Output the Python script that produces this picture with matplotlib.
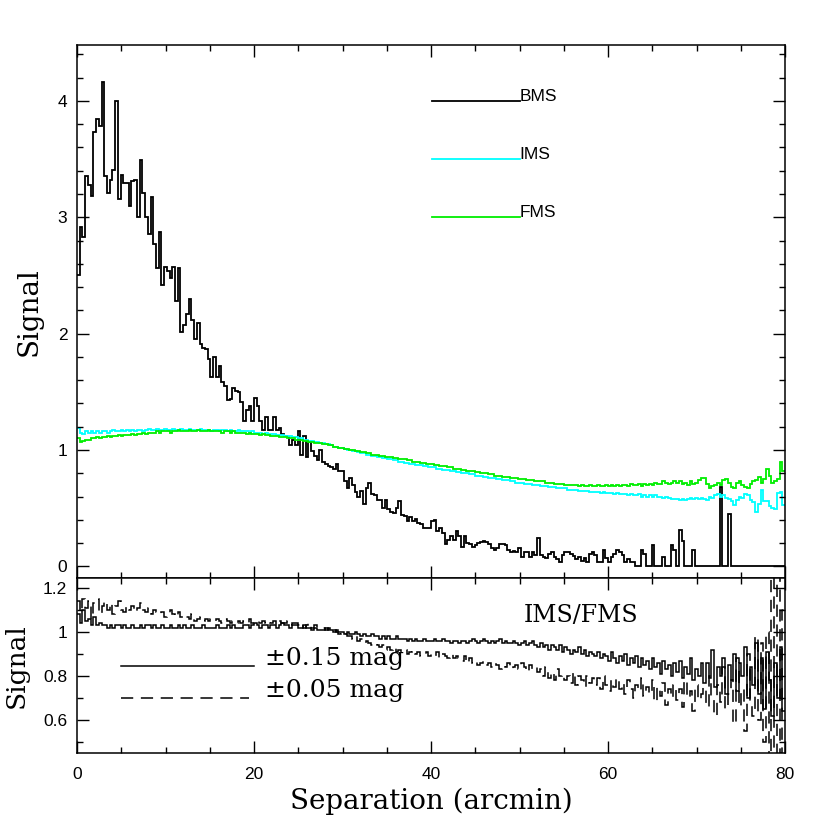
import numpy as np
import matplotlib
matplotlib.use("Agg")
import matplotlib.pyplot as plt
from matplotlib.ticker import MultipleLocator

# binned signal, 260 bins from 0 to 80 arcmin
bms = [2.50, 2.92, 2.83, 3.35, 3.28, 3.18, 3.73, 3.84, 3.78, 4.16,
       3.35, 3.21, 3.32, 3.41, 4.00, 3.16, 3.36, 3.29, 3.29, 3.10,
       3.31, 3.32, 3.00, 3.49, 3.21, 3.00, 2.86, 3.17, 2.77, 2.56,
       2.87, 2.42, 2.57, 2.54, 2.48, 2.57, 2.28, 2.56,
       2.01, 2.07, 2.17, 2.30, 2.12, 1.95, 2.09, 1.91, 1.88, 1.87,
       1.78, 1.63, 1.80, 1.63, 1.72, 1.58, 1.55, 1.43, 1.44, 1.53,
       1.51, 1.50, 1.41, 1.25, 1.34, 1.38, 1.25, 1.45, 1.38, 1.25,
       1.17, 1.28, 1.17, 1.17, 1.28, 1.17, 1.19, 1.14, 1.12, 1.11,
       1.04, 1.09, 1.04,
       1.16, 0.96, 1.12, 0.94, 1.07, 0.99, 0.95, 0.91, 1.00, 0.90,
       0.88, 0.86, 0.85, 0.84, 0.88, 0.82, 0.82, 0.73, 0.67, 0.76,
       0.70, 0.64, 0.60, 0.65, 0.54, 0.67, 0.72, 0.62, 0.61, 0.57,
       0.57, 0.50, 0.57, 0.49, 0.47, 0.46, 0.50, 0.56, 0.44, 0.43,
       0.39, 0.42, 0.39, 0.41, 0.37, 0.36, 0.33, 0.33, 0.33, 0.39,
       0.40, 0.30, 0.33, 0.29, 0.19, 0.23, 0.26,
       0.23, 0.30, 0.26, 0.17, 0.26, 0.20, 0.19, 0.17, 0.18, 0.20,
       0.21, 0.22, 0.21, 0.19, 0.16, 0.14, 0.16, 0.19, 0.19, 0.18,
       0.14, 0.12, 0.13, 0.12, 0.16, 0.08, 0.12, 0.12, 0.08, 0.12,
       0.10, 0.24, 0.10, 0.08, 0.07, 0.11, 0.12, 0.08, 0.06, 0.04,
       0.10, 0.12, 0.12, 0.11, 0.09, 0.06, 0.08, 0.05, 0.07, 0.04,
       0.11, 0.12, 0.10, 0.04, 0.04, 0.14, 0.07, 0.04, 0.08, 0.11,
       0.14, 0.12, 0.10,
       0.04, 0.06, 0.04, 0.035, 0, 0, 0.14, 0.11, 0, 0,
       0.18, 0, 0, 0, 0.08, 0, 0, 0.18, 0.14, 0,
       0.31, 0.22, 0, 0, 0, 0.14, 0, 0, 0, 0,
       0, 0, 0, 0, 0, 0.68, 0, 0, 0.45, 0,
       0, 0, 0, 0, 0, 0, 0, 0, 0, 0,
       0, 0, 0, 0, 0, 0, 0, 0, 0]

ims = [1.19, 1.15, 1.14, 1.16, 1.15, 1.16, 1.15, 1.16, 1.15, 1.16,
       1.16, 1.15, 1.16, 1.17, 1.16, 1.16, 1.17, 1.16, 1.17, 1.16,
       1.17, 1.16, 1.17, 1.17, 1.16, 1.17, 1.18, 1.17, 1.17, 1.18,
       1.17, 1.17, 1.18, 1.17, 1.17, 1.18, 1.17, 1.17, 1.18, 1.17,
       1.17, 1.18, 1.17, 1.17, 1.17, 1.18, 1.17, 1.17, 1.17, 1.16,
       1.17, 1.17, 1.16, 1.17, 1.17, 1.16, 1.17, 1.16, 1.16, 1.17,
       1.16, 1.16, 1.16, 1.15, 1.16, 1.15, 1.15, 1.15, 1.14, 1.15,
       1.14, 1.14, 1.14, 1.13, 1.13, 1.13, 1.12, 1.12, 1.12, 1.11,
       1.11, 1.10, 1.10, 1.09, 1.09, 1.08, 1.08, 1.07, 1.07, 1.06,
       1.06, 1.05, 1.05, 1.04, 1.03, 1.03, 1.02, 1.02, 1.01, 1.00,
       1.00, 0.99, 0.99, 0.98, 0.97, 0.97, 0.96, 0.96, 0.95, 0.95,
       0.94, 0.94, 0.93, 0.93, 0.92, 0.92, 0.91, 0.91, 0.90, 0.90,
       0.89, 0.89, 0.88, 0.88, 0.87, 0.87, 0.87, 0.86, 0.86, 0.85,
       0.85, 0.85, 0.84, 0.84, 0.83, 0.83, 0.83, 0.82, 0.82, 0.81,
       0.81, 0.80, 0.80, 0.80, 0.79, 0.79, 0.78, 0.78, 0.78, 0.77,
       0.77, 0.76, 0.76, 0.76, 0.75, 0.75, 0.74, 0.74, 0.74, 0.73,
       0.73, 0.72, 0.72, 0.72, 0.71, 0.71, 0.71, 0.70, 0.70, 0.70,
       0.69, 0.69, 0.69, 0.68, 0.68, 0.68, 0.67, 0.67, 0.67, 0.67,
       0.66, 0.66, 0.66, 0.66, 0.65, 0.65, 0.65, 0.65, 0.64, 0.64,
       0.64, 0.64, 0.63, 0.64, 0.63, 0.63, 0.63, 0.62, 0.63, 0.62,
       0.62, 0.62, 0.61, 0.62, 0.61, 0.61, 0.62, 0.60, 0.61, 0.60,
       0.61, 0.60, 0.61, 0.60, 0.60, 0.59, 0.60, 0.59, 0.58, 0.58,
       0.58, 0.57, 0.58, 0.57, 0.58, 0.59, 0.58, 0.59, 0.58, 0.59,
       0.58, 0.57, 0.60, 0.59, 0.61, 0.62, 0.60, 0.61, 0.59, 0.58,
       0.56, 0.53, 0.57, 0.60, 0.59, 0.62, 0.61, 0.57, 0.55, 0.47,
       0.54, 0.66, 0.56, 0.56, 0.52, 0.50, 0.49, 0.63, 0.64, 0.53]

fms = [1.10, 1.07, 1.08, 1.09, 1.09, 1.10, 1.10, 1.11, 1.10, 1.11,
       1.11, 1.12, 1.11, 1.12, 1.12, 1.13, 1.12, 1.13, 1.13, 1.13,
       1.14, 1.13, 1.14, 1.14, 1.15, 1.14, 1.15, 1.15, 1.15, 1.16,
       1.15, 1.16, 1.16, 1.16, 1.15, 1.16, 1.16, 1.17, 1.16, 1.16,
       1.16, 1.17, 1.16, 1.16, 1.17, 1.16, 1.16, 1.16, 1.17, 1.16,
       1.16, 1.16, 1.16, 1.15, 1.16, 1.16, 1.15, 1.16, 1.15, 1.15,
       1.15, 1.15, 1.14, 1.15, 1.14, 1.14, 1.14, 1.13, 1.14, 1.13,
       1.13, 1.12, 1.12, 1.12, 1.11, 1.11, 1.11, 1.10, 1.10, 1.10,
       1.09, 1.09, 1.09, 1.08, 1.08, 1.07, 1.07, 1.06, 1.06, 1.06,
       1.05, 1.05, 1.04, 1.04, 1.03, 1.03, 1.02, 1.02, 1.01, 1.01,
       1.00, 1.00, 0.99, 0.99, 0.98, 0.98, 0.97, 0.97, 0.96, 0.96,
       0.96, 0.95, 0.95, 0.94, 0.94, 0.94, 0.93, 0.93, 0.92, 0.92,
       0.92, 0.91, 0.91, 0.90, 0.90, 0.90, 0.89, 0.89, 0.88, 0.88,
       0.88, 0.87, 0.87, 0.86, 0.86, 0.86, 0.85, 0.85, 0.84, 0.84,
       0.84, 0.83, 0.83, 0.82, 0.82, 0.82, 0.81, 0.81, 0.80, 0.80,
       0.80, 0.79, 0.79, 0.78, 0.78, 0.78, 0.77, 0.77, 0.77, 0.76,
       0.76, 0.76, 0.75, 0.75, 0.75, 0.74, 0.74, 0.74, 0.73, 0.73,
       0.73, 0.73, 0.72, 0.72, 0.72, 0.71, 0.71, 0.71, 0.71, 0.70,
       0.70, 0.70, 0.70, 0.70, 0.69, 0.70, 0.69, 0.69, 0.70, 0.69,
       0.69, 0.70, 0.69, 0.69, 0.70, 0.69, 0.70, 0.69, 0.70, 0.69,
       0.70, 0.70, 0.69, 0.71, 0.70, 0.70, 0.71, 0.69, 0.71, 0.70,
       0.71, 0.70, 0.72, 0.71, 0.71, 0.73, 0.72, 0.71, 0.72, 0.73,
       0.72, 0.73, 0.71, 0.72, 0.70, 0.73, 0.71, 0.72, 0.74, 0.76,
       0.76, 0.71, 0.67, 0.69, 0.70, 0.72, 0.70, 0.74, 0.75, 0.72,
       0.68, 0.67, 0.72, 0.73, 0.70, 0.68, 0.67, 0.71, 0.73, 0.74,
       0.77, 0.72, 0.75, 0.84, 0.78, 0.72, 0.73, 0.75, 0.90, 0.82]

# IMS/FMS ratio for the two magnitude windows
ratio_15 = [1.08, 1.04, 1.10, 1.05, 1.06, 1.03, 1.07, 1.03, 1.04, 1.03,
            1.03, 1.02, 1.03, 1.02, 1.03, 1.03, 1.02, 1.03, 1.02, 1.02,
            1.03, 1.02, 1.02, 1.03, 1.02, 1.03, 1.03, 1.02, 1.03, 1.02,
            1.02, 1.03, 1.02, 1.02, 1.03, 1.02, 1.02, 1.03, 1.02, 1.03,
            1.02, 1.02, 1.03, 1.02, 1.02, 1.02, 1.03, 1.02, 1.02, 1.02,
            1.02, 1.03, 1.02, 1.02, 1.02, 1.03, 1.02, 1.03, 1.02, 1.02,
            1.02, 1.03, 1.03, 1.02, 1.03, 1.04, 1.03, 1.02, 1.03, 1.03,
            1.02, 1.03, 1.03, 1.02, 1.03, 1.04, 1.03, 1.03, 1.02, 1.03,
            1.03, 1.02, 1.02, 1.03, 1.02, 1.02, 1.01, 1.02, 1.01, 1.01,
            1.01, 1.02, 1.01, 1.01, 1.00, 1.01, 1.00, 1.00, 0.99, 1.00,
            0.99, 0.99, 1.00, 0.99, 0.98, 0.99, 0.98, 0.98, 0.99, 0.98,
            0.98, 0.97, 0.98, 0.97, 0.98, 0.97, 0.97, 0.98, 0.97, 0.97,
            0.97, 0.96, 0.97, 0.96, 0.97, 0.96, 0.96, 0.97, 0.96, 0.96,
            0.96, 0.97, 0.96, 0.96, 0.97, 0.96, 0.96, 0.95, 0.96, 0.96,
            0.95, 0.96, 0.96, 0.95, 0.96, 0.97, 0.96, 0.95, 0.96, 0.97,
            0.96, 0.95, 0.96, 0.95, 0.96, 0.97, 0.95, 0.96, 0.95, 0.95,
            0.96, 0.95, 0.94, 0.95, 0.96, 0.94, 0.95, 0.96, 0.94, 0.93,
            0.95, 0.93, 0.94, 0.92, 0.94, 0.93, 0.92, 0.94, 0.91, 0.93,
            0.92, 0.90, 0.92, 0.91, 0.93, 0.90, 0.92, 0.89, 0.91, 0.90,
            0.89, 0.91, 0.88, 0.90, 0.89, 0.87, 0.91, 0.88, 0.86, 0.89,
            0.87, 0.90, 0.85, 0.88, 0.86, 0.89, 0.84, 0.88, 0.85, 0.87,
            0.83, 0.88, 0.84, 0.86, 0.81, 0.87, 0.83, 0.85, 0.80, 0.86,
            0.82, 0.87, 0.79, 0.84, 0.81, 0.88, 0.78, 0.83, 0.80, 0.86,
            0.77, 0.86, 0.79, 0.92, 0.75, 0.84, 0.80, 0.88, 0.72, 0.85,
            0.78, 0.90, 0.73, 0.86, 0.80, 0.93, 0.70, 0.84, 0.76, 0.95,
            0.72, 0.88, 0.65, 0.91, 0.78, 0.62, 0.86, 0.70, 0.93, 0.64]

ratio_05 = [1.14, 1.09, 1.15, 1.11, 1.14, 1.06, 1.13, 1.15, 1.08, 1.12,
            1.14, 1.10, 1.13, 1.08, 1.12, 1.14, 1.10, 1.09, 1.12, 1.10,
            1.12, 1.09, 1.11, 1.13, 1.10, 1.09, 1.11, 1.08, 1.10, 1.09,
            1.08, 1.09, 1.07, 1.08, 1.10, 1.08, 1.07, 1.09, 1.07, 1.06,
            1.07, 1.06, 1.08, 1.05, 1.06, 1.07, 1.05, 1.06, 1.05, 1.06,
            1.05, 1.06, 1.05, 1.04, 1.06, 1.05, 1.04, 1.05, 1.04, 1.05,
            1.04, 1.05, 1.04, 1.06, 1.04, 1.05, 1.05, 1.04, 1.05, 1.04,
            1.05, 1.04, 1.05, 1.03, 1.05, 1.04, 1.04, 1.05, 1.03, 1.04,
            1.04, 1.03, 1.04, 1.02, 1.03, 1.04, 1.02, 1.03, 1.02, 1.02,
            1.02, 1.01, 1.02, 1.00, 1.01, 1.00, 0.99, 1.00, 0.99, 0.98,
            0.98, 0.97, 0.98, 0.96, 0.97, 0.95, 0.96, 0.95, 0.94, 0.95,
            0.94, 0.93, 0.94, 0.92, 0.93, 0.92, 0.93, 0.91, 0.92, 0.91,
            0.92, 0.90, 0.91, 0.92, 0.90, 0.91, 0.89, 0.90, 0.91, 0.89,
            0.90, 0.89, 0.91, 0.88, 0.90, 0.89, 0.88, 0.90, 0.88, 0.89,
            0.88, 0.87, 0.89, 0.86, 0.88, 0.86, 0.87, 0.85, 0.86, 0.87,
            0.85, 0.86, 0.84, 0.86, 0.85, 0.83, 0.85, 0.84, 0.86, 0.83,
            0.84, 0.85, 0.83, 0.86, 0.84, 0.82, 0.85, 0.83, 0.84, 0.82,
            0.83, 0.80, 0.84, 0.79, 0.82, 0.78, 0.83, 0.80, 0.81, 0.78,
            0.80, 0.77, 0.82, 0.76, 0.80, 0.78, 0.75, 0.80, 0.77, 0.79,
            0.76, 0.79, 0.74, 0.80, 0.76, 0.73, 0.78, 0.75, 0.79, 0.74,
            0.77, 0.72, 0.78, 0.74, 0.70, 0.76, 0.73, 0.79, 0.71, 0.75,
            0.72, 0.78, 0.68, 0.75, 0.71, 0.77, 0.67, 0.74, 0.70, 0.76,
            0.69, 0.74, 0.66, 0.78, 0.70, 0.73, 0.64, 0.76, 0.69, 0.72,
            0.75, 0.66, 0.80, 0.70, 0.62, 0.76, 0.68, 0.84, 0.65, 0.72,
            0.78, 0.58, 0.88, 0.66, 0.74, 0.55, 0.90, 0.68, 0.62, 0.98,
            0.60, 0.95, 0.50, 1.00, 0.42, 1.30, 0.40, 1.35, 0.45, 1.10]

edges = np.linspace(0, 80, len(bms) + 1)

serif = ['DejaVu Serif']
sans = ['Liberation Sans', 'DejaVu Sans']
plt.rcParams['font.family'] = sans

fig = plt.figure(figsize=(8.3, 8.3), dpi=100)
ax1 = fig.add_axes([0.0928, 0.3036, 0.8530, 0.6422])
ax2 = fig.add_axes([0.0928, 0.0928, 0.8530, 0.2108], sharex=ax1)

ax1.stairs(bms, edges, baseline=None, color='black', lw=1.3)
ax1.stairs(ims, edges, baseline=None, color='#00ffff', lw=1.3)
ax1.stairs(fms, edges, baseline=None, color='#00ee00', lw=1.3)

ax2.stairs(ratio_15, edges, baseline=None, color='black', lw=1.1)
ax2.stairs(ratio_05, edges, baseline=None, color='black', lw=1.1, linestyle=(0, (8, 5)))

ax1.set_xlim(0, 80)
ax1.set_ylim(-0.1, 4.48)
ax2.set_ylim(0.45, 1.245)

# in-panel line labels
for y, c, lab in [(4.0, 'black', 'BMS'), (3.5, '#00ffff', 'IMS'), (3.0, '#00ee00', 'FMS')]:
    ax1.plot([40.1, 50.0], [y, y], color=c, lw=1.3)
    ax1.text(50.0, y, lab, fontsize=12.5, ha='left', va='baseline', family=sans)

ax2.text(56.9, 1.045, 'IMS/FMS', fontsize=17, ha='center', va='baseline', family=serif)
ax2.plot([5.0, 20.0], [0.845, 0.845], color='black', lw=1.1)
ax2.plot([5.0, 19.4], [0.70, 0.70], color='black', lw=1.1, linestyle=(0, (8, 5)))
ax2.text(21.2, 0.85, '±0.15 mag', fontsize=18, ha='left', va='baseline', family=serif)
ax2.text(21.2, 0.705, '±0.05 mag', fontsize=18, ha='left', va='baseline', family=serif)

ax1.yaxis.set_major_locator(MultipleLocator(1))
ax1.yaxis.set_minor_locator(MultipleLocator(0.2))
ax2.yaxis.set_major_locator(MultipleLocator(0.2))
ax2.yaxis.set_minor_locator(MultipleLocator(0.1))
ax2.xaxis.set_major_locator(MultipleLocator(20))
ax2.xaxis.set_minor_locator(MultipleLocator(5))
ax2.yaxis.set_major_formatter(plt.FuncFormatter(lambda v, p: '%g' % v))

for ax in (ax1, ax2):
    ax.tick_params(which='both', direction='in', top=True, right=True, width=1, labelsize=12.5)
    ax.tick_params(which='major', length=8.6)
    ax.tick_params(which='minor', length=4.3)
    ax.tick_params(axis='y', pad=7)
    ax.tick_params(axis='x', pad=10)
    for s in ax.spines.values():
        s.set_linewidth(1.1)
ax1.tick_params(labelbottom=False)

ax1.set_ylabel('Signal', family=serif, fontsize=20)
ax2.set_ylabel('Signal', family=serif, fontsize=19)
ax2.set_xlabel('Separation (arcmin)', family=serif, fontsize=20, labelpad=4)
ax1.yaxis.set_label_coords(-0.048, 0.5)
ax2.yaxis.set_label_coords(-0.068, 0.5)

fig.savefig('out.png', dpi=100)
